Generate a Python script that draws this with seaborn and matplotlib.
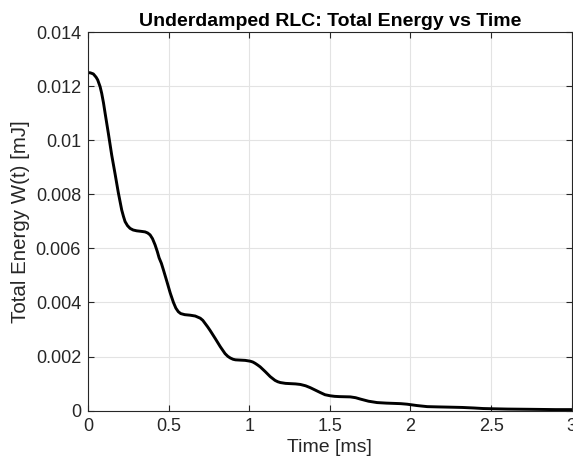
import pandas as pd
import matplotlib
matplotlib.use('Agg')
import matplotlib.pyplot as plt
import seaborn as sns

# Values
time_ms = [0, 0.015, 0.033, 0.05, 0.06, 0.075, 0.085, 0.096, 0.106, 0.126,
           0.147, 0.168, 0.188, 0.209, 0.22, 0.23, 0.245, 0.261, 0.28, 0.302,
           0.33, 0.354, 0.37, 0.385, 0.4, 0.416, 0.43, 0.441, 0.455, 0.468,
           0.489, 0.51, 0.53, 0.545, 0.56, 0.575, 0.6, 0.634, 0.665, 0.696,
           0.712, 0.727, 0.742, 0.758, 0.79, 0.82, 0.85, 0.867, 0.882, 0.9,
           0.915, 0.944, 0.975, 1.006, 1.022, 1.037, 1.052, 1.068, 1.1, 1.13,
           1.16, 1.177, 1.193, 1.225, 1.255, 1.287, 1.317, 1.35, 1.379, 1.41,
           1.441, 1.47, 1.503, 1.53, 1.56, 1.627, 1.66, 1.689, 1.74, 1.793,
           1.85, 1.896, 1.94, 1.979, 2.04, 2.104, 2.17, 2.248, 2.32, 2.393,
           2.45, 2.518, 2.6, 2.76, 2.9, 3.0]
energy_mj = [0.01250, 0.01249, 0.01245, 0.01233, 0.01223, 0.01198, 0.01173, 0.01138, 0.01100, 0.01026,
             0.00945, 0.00875, 0.00806, 0.00742, 0.00718, 0.00699, 0.00684, 0.00674, 0.00668, 0.00665,
             0.00663, 0.00661, 0.00657, 0.00650, 0.00636, 0.00613, 0.00588, 0.00565, 0.00545, 0.00520,
             0.00478, 0.00435, 0.00400, 0.00379, 0.00366, 0.00359, 0.00355, 0.00353, 0.00350, 0.00342,
             0.00334, 0.00322, 0.00310, 0.00296, 0.00266, 0.00237, 0.00211, 0.00201, 0.00195, 0.00190,
             0.00188, 0.00187, 0.00186, 0.00183, 0.00180, 0.00175, 0.00169, 0.00162, 0.00144, 0.00126,
             0.00112, 0.00107, 0.00104, 0.00101, 0.00100, 0.00099, 0.00097, 0.00092, 0.00085, 0.00076,
             0.00067, 0.00059, 0.00055, 0.00053, 0.00052, 0.00051, 0.00048, 0.00043, 0.00035, 0.00030,
             0.00028, 0.00027, 0.00026, 0.00024, 0.00019, 0.00015, 0.00014, 0.00013, 0.00012, 0.00010,
             0.00008, 0.00007, 0.00006, 0.00005, 0.00004, 0.00004]

x_ticks = [0, 0.5, 1, 1.5, 2, 2.5, 3]
x_tick_labels = ['0', '0.5', '1', '1.5', '2', '2.5', '3']
y_ticks = [0, 0.002, 0.004, 0.006, 0.008, 0.01, 0.012, 0.014]
y_tick_labels = ['0', '0.002', '0.004', '0.006', '0.008', '0.01', '0.012', '0.014']

df = pd.DataFrame({'t': time_ms, 'W': energy_mj})

sns.set_theme(style="whitegrid")
plt.rcParams['font.family'] = ['Liberation Sans', 'DejaVu Sans']

fig = plt.figure(figsize=(5.73, 4.66), dpi=100)
ax = fig.add_axes([0.1536, 0.1187, 0.8441, 0.8126])

sns.lineplot(data=df, x='t', y='W', color='black', linewidth=2.1, ax=ax)

ax.set_xlim(0, 3)
ax.set_ylim(0, 0.014)
ax.set_xticks(x_ticks)
ax.set_xticklabels(x_tick_labels)
ax.set_yticks(y_ticks)
ax.set_yticklabels(y_tick_labels)

ax.set_facecolor('white')
ax.grid(True, color='#e3e3e3', linewidth=0.8)
for side in ['left', 'bottom', 'top', 'right']:
    ax.spines[side].set_visible(True)
    ax.spines[side].set_color('#262626')
    ax.spines[side].set_linewidth(0.8)
ax.tick_params(direction='in', length=4, width=0.8, color='#262626',
               labelsize=13, labelcolor='#262626', top=True, right=True,
               bottom=True, left=True, pad=5)

ax.set_title('Underdamped RLC: Total Energy vs Time', fontsize=14,
             fontweight='bold', color='black', pad=4)
ax.set_xlabel('Time [ms]', fontsize=14, color='#262626', labelpad=3)
ax.set_ylabel('Total Energy W(t) [mJ]', fontsize=14.8, color='#262626', labelpad=4)

fig.savefig('out.png', dpi=100, facecolor='white')
